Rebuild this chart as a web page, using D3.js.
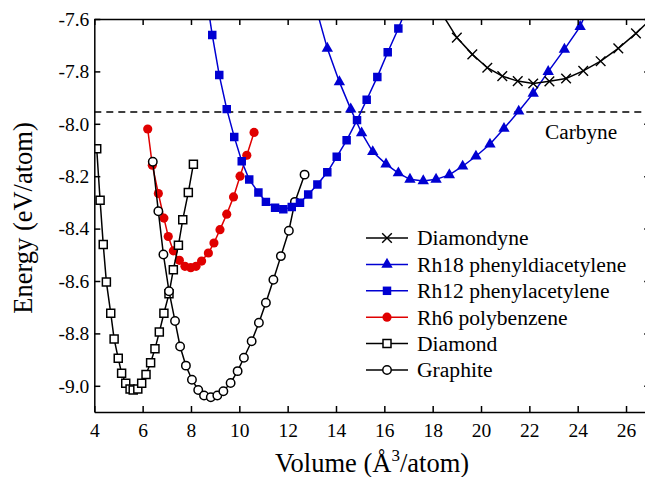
<!DOCTYPE html>
<html>
<head>
<meta charset="utf-8">
<script src="https://cdn.jsdelivr.net/npm/d3@7"></script>
<style>
  body { margin: 0; background: #fff; }
  svg { display: block; }
  svg text { font-family: "Liberation Serif", "Times New Roman", Times, serif; }
</style>
</head>
<body>
<div id="chart"></div>
<script>
// E(V) curves (volume in Å^3/atom, energy in eV/atom)
const diamondyneV = [18.35, 19.0, 19.64, 20.26, 20.88, 21.52, 22.16, 22.83, 23.52, 24.23, 24.95, 25.68, 26.41, 27.15];
const diamondyneE = [-7.575, -7.671, -7.735, -7.786, -7.818, -7.837, -7.846, -7.838, -7.827, -7.798, -7.761, -7.712, -7.655, -7.59];

const rh18V = [13.15, 13.64, 14.14, 14.61, 15.06, 15.52, 16.07, 16.58, 17.06, 17.61, 18.14, 18.69, 19.24, 19.79, 20.37, 20.95, 21.56, 22.16, 22.78, 23.45, 24.10, 24.7];
const rh18E = [-7.55, -7.712, -7.840, -7.944, -8.035, -8.107, -8.154, -8.188, -8.212, -8.218, -8.212, -8.195, -8.162, -8.124, -8.078, -8.018, -7.952, -7.884, -7.801, -7.716, -7.629, -7.50];

const rh12V = [8.58, 8.88, 9.17, 9.48, 9.79, 10.10, 10.41, 10.79, 11.10, 11.48, 11.82, 12.17, 12.51, 12.85, 13.23, 13.64, 14.03, 14.44, 14.87, 15.27, 15.71, 16.14, 16.58, 17.0];
const rh12E = [-7.48, -7.661, -7.814, -7.944, -8.050, -8.143, -8.213, -8.262, -8.298, -8.320, -8.326, -8.318, -8.301, -8.270, -8.232, -8.185, -8.126, -8.063, -7.986, -7.908, -7.821, -7.727, -7.636, -7.54];

const rh6V = [6.21, 6.40, 6.65, 6.88, 7.06, 7.27, 7.52, 7.75, 7.99, 8.21, 8.44, 8.72, 8.95, 9.20, 9.48, 9.76, 10.03, 10.31, 10.61];
const rh6E = [-8.020, -8.158, -8.266, -8.360, -8.430, -8.485, -8.521, -8.544, -8.549, -8.544, -8.524, -8.493, -8.455, -8.404, -8.345, -8.279, -8.200, -8.120, -8.033];

const diamondV = [4.10, 4.24, 4.37, 4.50, 4.68, 4.82, 4.99, 5.13, 5.30, 5.48, 5.61, 5.80, 5.96, 6.14, 6.33, 6.51, 6.69, 6.88, 7.09, 7.27, 7.48, 7.66, 7.89, 8.10];
const diamondE = [-8.095, -8.292, -8.461, -8.604, -8.723, -8.821, -8.895, -8.952, -8.990, -9.012, -9.016, -9.012, -8.990, -8.957, -8.912, -8.859, -8.795, -8.723, -8.649, -8.557, -8.464, -8.366, -8.262, -8.154];

const graphiteV = [6.42, 6.65, 6.86, 7.09, 7.34, 7.55, 7.79, 8.04, 8.30, 8.54, 8.82, 9.09, 9.34, 9.64, 9.93, 10.19, 10.51, 10.81, 11.10, 11.41, 11.72, 12.05, 12.30, 12.70];
const graphiteE = [-8.145, -8.334, -8.499, -8.639, -8.753, -8.850, -8.923, -8.977, -9.016, -9.037, -9.044, -9.037, -9.021, -8.989, -8.944, -8.893, -8.830, -8.759, -8.683, -8.595, -8.505, -8.408, -8.298, -8.194];

const carbyneE = -7.955;

const xTicks = [4, 6, 8, 10, 12, 14, 16, 18, 20, 22, 24, 26];
const yTicks = [-7.6, -7.8, -8.0, -8.2, -8.4, -8.6, -8.8, -9.0];

const blue = "#0000d2", red = "#e00000";

// legend order; drawn in a different order below
const series = [
    { name: "Diamondyne", v: diamondyneV, e: diamondyneE, color: "#000", marker: "times" },
    { name: "Rh18 phenyldiacetylene", v: rh18V, e: rh18E, color: blue, marker: "triangle" },
    { name: "Rh12 phenylacetylene", v: rh12V, e: rh12E, color: blue, marker: "square" },
    { name: "Rh6 polybenzene", v: rh6V, e: rh6E, color: red, marker: "circle" },
    { name: "Diamond", v: diamondV, e: diamondE, color: "#000", marker: "openSquare" },
    { name: "Graphite", v: graphiteV, e: graphiteE, color: "#000", marker: "openCircle" }
];
const drawOrder = ["Rh6 polybenzene", "Diamond", "Graphite", "Rh12 phenylacetylene", "Rh18 phenyldiacetylene", "Diamondyne"];

const width = 645, height = 477;
const font = "Liberation Serif";

const svg = d3.select("#chart").append("svg")
    .attr("width", width).attr("height", height);

const x = d3.scaleLinear().domain([4, 27]).range([94.3, 650.2]);
const y = d3.scaleLinear().domain([-9.1, -7.6]).range([412, 19]);

svg.append("clipPath").attr("id", "plotClip")
    .append("rect")
    .attr("x", x(4)).attr("y", y(-7.6))
    .attr("width", x(27) - x(4)).attr("height", y(-9.1) - y(-7.6));

function markerPath(kind) {
    const sym = {
        times: [d3.symbolTimes, 62],
        triangle: [d3.symbolTriangle, 56],
        square: [d3.symbolSquare, 72],
        circle: [d3.symbolCircle, 66],
        openSquare: [d3.symbolSquare, 64],
        openCircle: [d3.symbolCircle, 56]
    }[kind];
    return d3.symbol().type(sym[0]).size(sym[1])();
}

function styleMarker(sel, s) {
    if (s.marker === "times") {
        sel.attr("fill", "none").attr("stroke", s.color).attr("stroke-width", 1.4);
    } else if (s.marker.startsWith("open")) {
        sel.attr("fill", "#fff").attr("stroke", s.color).attr("stroke-width", 1.5);
    } else {
        sel.attr("fill", s.color).attr("stroke", "none");
    }
}

const plot = svg.append("g").attr("clip-path", "url(#plotClip)");

const line = d3.line().x(d => x(d[0])).y(d => y(d[1]));

// carbyne reference level
plot.append("line")
    .attr("x1", x(4)).attr("x2", x(27))
    .attr("y1", y(carbyneE)).attr("y2", y(carbyneE))
    .attr("stroke", "#000").attr("stroke-width", 1.5)
    .attr("stroke-dasharray", "7,5");

drawOrder.forEach(name => {
    const s = series.find(d => d.name === name);
    const pts = s.v.map((v, i) => [v, s.e[i]]);
    const g = plot.append("g");
    g.append("path")
        .datum(pts)
        .attr("d", line)
        .attr("fill", "none")
        .attr("stroke", s.color)
        .attr("stroke-width", 1.5);
    g.selectAll("path.mk")
        .data(pts)
        .enter()
        .append("path")
        .attr("class", "mk")
        .attr("d", markerPath(s.marker))
        .attr("transform", d => `translate(${x(d[0])},${y(d[1])})`)
        .call(styleMarker, s);
});

// axes, ticks pointing inward on all four sides
const fmt = d => d.toFixed(1);
function styleAxis(g) {
    g.attr("font-family", font).attr("font-size", 19.5);
    g.select(".domain").attr("stroke", "#000").attr("stroke-width", 1.5);
    g.selectAll(".tick line").attr("stroke", "#000").attr("stroke-width", 1.5);
    g.selectAll(".tick text").attr("fill", "#000");
}

svg.append("g").attr("transform", `translate(0,${y(-9.1)})`)
    .call(d3.axisBottom(x).tickValues(xTicks).tickSizeInner(-6).tickSizeOuter(0).tickPadding(11))
    .call(styleAxis);
svg.append("g").attr("transform", `translate(0,${y(-7.6)})`)
    .call(d3.axisTop(x).tickValues(xTicks).tickSizeInner(-6).tickSizeOuter(0).tickFormat(""))
    .call(styleAxis);
svg.append("g").attr("transform", `translate(${x(4)},0)`)
    .call(d3.axisLeft(y).tickValues(yTicks).tickSizeInner(-6).tickSizeOuter(0).tickPadding(5).tickFormat(fmt))
    .call(styleAxis);
svg.append("g").attr("transform", `translate(${x(27)},0)`)
    .call(d3.axisRight(y).tickValues(yTicks).tickSizeInner(-6).tickSizeOuter(0).tickFormat(""))
    .call(styleAxis);

// axis titles
svg.append("text")
    .attr("transform", "rotate(-90)")
    .attr("x", -218).attr("y", 32)
    .attr("text-anchor", "middle")
    .attr("font-family", font).attr("font-size", 26.5)
    .text("Energy (eV/atom)");

const xt = svg.append("text")
    .attr("x", 372).attr("y", 472)
    .attr("text-anchor", "middle")
    .attr("font-family", font).attr("font-size", 26.5);
xt.append("tspan").text("Volume (Å");
xt.append("tspan").attr("dy", -11).attr("font-size", 17).text("3");
xt.append("tspan").attr("dy", 11).text("/atom)");

svg.append("text")
    .attr("x", 545).attr("y", 139)
    .attr("font-family", font).attr("font-size", 21.3)
    .text("Carbyne");

// legend
const legend = svg.append("g").attr("font-family", font).attr("font-size", 21.6);
series.forEach((s, i) => {
    const cy = 238 + i * 26.4;
    const item = legend.append("g").attr("transform", `translate(366,${cy})`);
    item.append("line").attr("x1", 0).attr("x2", 42)
        .attr("stroke", s.color).attr("stroke-width", 1.5);
    item.append("path").attr("d", markerPath(s.marker))
        .attr("transform", "translate(21,0)")
        .call(styleMarker, s);
    item.append("text").attr("x", 51).attr("dy", "0.34em")
        .text(s.name);
});
</script>
</body>
</html>
